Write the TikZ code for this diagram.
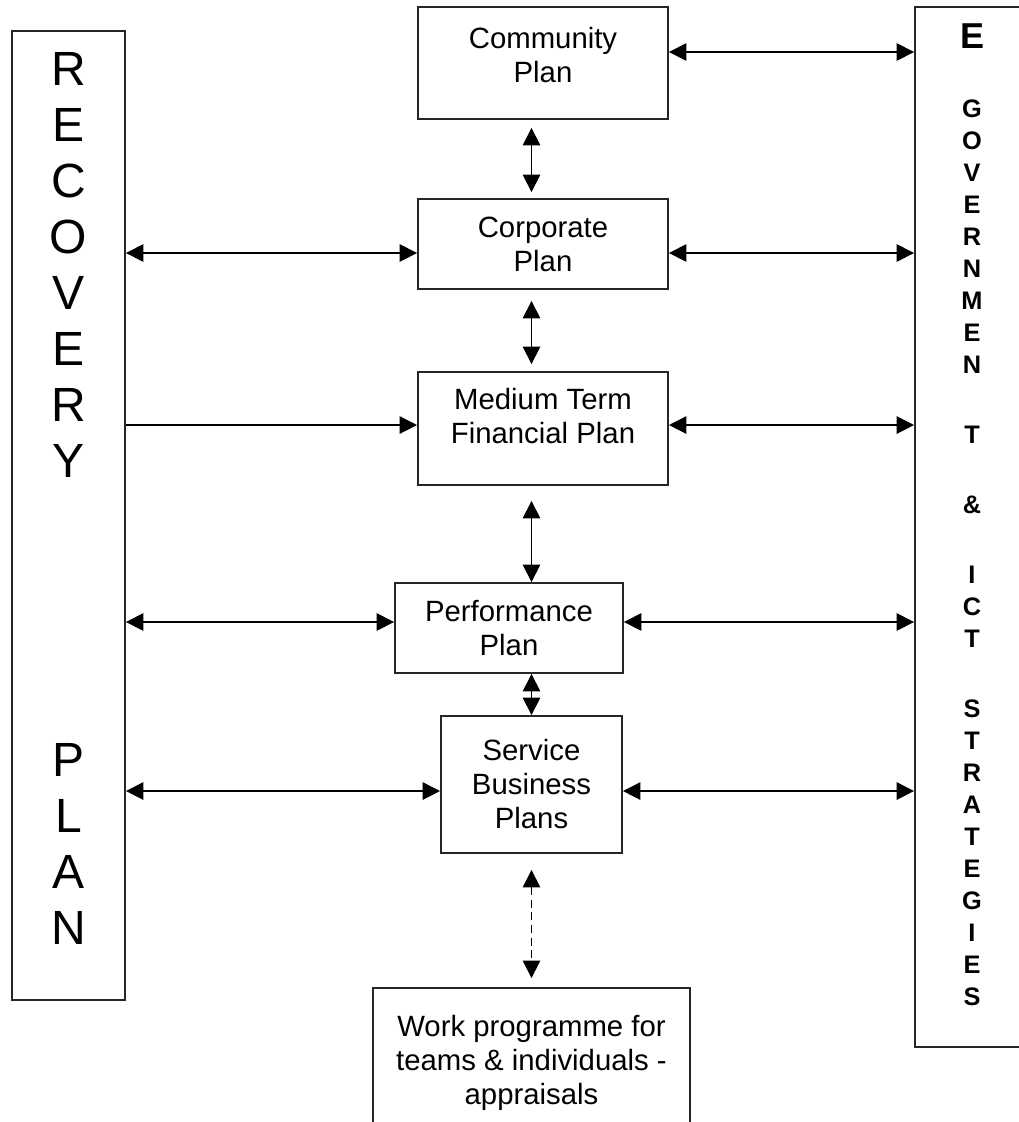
\documentclass[tikz,border=0pt]{standalone}
\usepackage{fontspec}
\setmainfont{Liberation Sans}
\usetikzlibrary{arrows.meta}
\tikzset{
    plan-box/.style = {draw=black!85, line width=1.4pt, rectangle, inner sep=0pt, align=center, font=\fontsize{22pt}{25.5pt}\selectfont},
    side-box/.style = {draw=black!85, line width=1.4pt, rectangle, inner sep=0pt},
    side-letters/.style = {inner sep=0pt, anchor=north, align=center},
    both-way/.style = {line width=1.1pt, {Triangle[length=13pt, width=13pt]}-{Triangle[length=13pt, width=13pt]}},
    one-way/.style = {line width=1.1pt, -{Triangle[length=13pt, width=13pt]}},
}

\begin{document}
\begin{tikzpicture}[x=0.75pt, y=-0.75pt]
\useasboundingbox (0,0) rectangle (1019,1122);
\clip (0,0) rectangle (1019,1122);

\node[side-box, minimum width=84.75pt, minimum height=726.75pt] (recovery) at (68.5,515.5) {};
\node[side-letters, font=\fontsize{36pt}{42pt}\selectfont] (recovery-word) at (68.5,52) {R\\E\\C\\O\\V\\E\\R\\Y};
\node[side-letters, font=\fontsize{36pt}{42pt}\selectfont] (plan-word) at (68.5,743) {P\\L\\A\\N};

\node[side-box, minimum width=85.5pt, minimum height=780pt] (strategies) at (972,527) {};
\node[side-letters, anchor=base, font=\bfseries\fontsize{27pt}{30pt}\selectfont] (strategies-e) at (972,48) {E};
\node[side-letters, font=\bfseries\fontsize{19pt}{24pt}\selectfont] (strategies-word) at (972,100) {G\\O\\V\\E\\R\\N\\M\\E\\N\\[28.5pt]T\\[28.5pt]\&\\[28.5pt]I\\C\\T\\[28.5pt]S\\T\\R\\A\\T\\E\\G\\I\\E\\S};

\node[plan-box, minimum width=187.5pt, minimum height=84pt, text depth=12.75pt] (community) at (543,63) {Community\\Plan};
\node[plan-box, minimum width=187.5pt, minimum height=67.5pt] (corporate) at (543,244) {Corporate\\Plan};
\node[plan-box, minimum width=187.5pt, minimum height=84.75pt, text depth=19.5pt] (medium) at (543,428.5) {Medium Term\\Financial Plan};
\node[plan-box, minimum width=171pt, minimum height=67.5pt] (performance) at (509,628) {Performance\\Plan};
\node[plan-box, minimum width=135.75pt, minimum height=102.75pt] (service) at (531.5,784.5) {Service\\Business\\Plans};
\node[plan-box, minimum width=237.75pt, minimum height=111.75pt] (work) at (531.5,1062.5) {Work programme for\\teams \& individuals -\\appraisals};

\draw[both-way, shorten <=6pt, shorten >=4.5pt] (community.south -| service) -- (corporate.north -| service);
\draw[both-way, shorten <=8.25pt, shorten >=5.25pt] (corporate.south -| service) -- (medium.north -| service);
\draw[both-way, shorten <=11.25pt] (medium.south -| service) -- (performance.north -| service);
\draw[both-way] (performance.south -| service) -- (service.north);
\draw[both-way, dash pattern=on 6pt off 3.5pt, shorten <=12pt, shorten >=6.75pt] (service.south) -- (work.north);

\draw[both-way] ([yshift=8.25pt]community.east) -- ([yshift=8.25pt]community.east -| strategies.west);
\draw[both-way] ([yshift=-6.75pt]corporate.east) -- ([yshift=-6.75pt]corporate.east -| strategies.west);
\draw[both-way] ([yshift=2.6pt]medium.east) -- ([yshift=2.6pt]medium.east -| strategies.west);
\draw[both-way] ([yshift=4.5pt]performance.east) -- ([yshift=4.5pt]performance.east -| strategies.west);
\draw[both-way] ([yshift=-4.9pt]service.east) -- ([yshift=-4.9pt]service.east -| strategies.west);

\draw[both-way] ([yshift=-6.75pt]corporate.west) -- ([yshift=-6.75pt]corporate.west -| recovery.east);
\draw[one-way] ([yshift=2.6pt]medium.west -| recovery.east) -- ([yshift=2.6pt]medium.west);
\draw[both-way] ([yshift=4.5pt]performance.west) -- ([yshift=4.5pt]performance.west -| recovery.east);
\draw[both-way] ([yshift=-4.9pt]service.west) -- ([yshift=-4.9pt]service.west -| recovery.east);
\end{tikzpicture}
\end{document}
